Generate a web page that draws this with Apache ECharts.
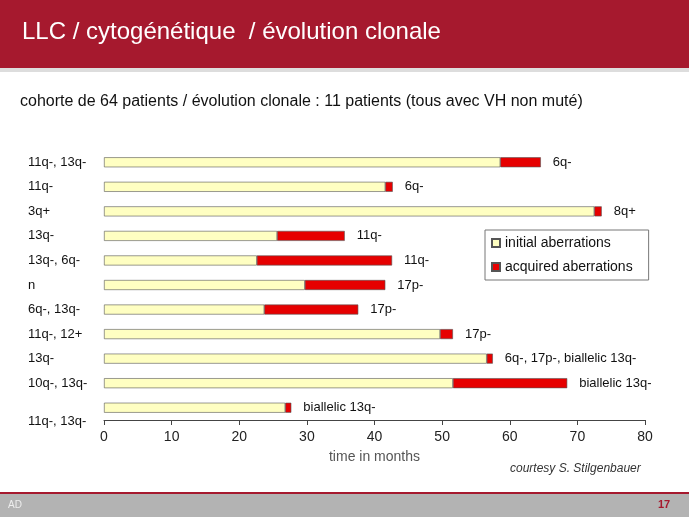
<!DOCTYPE html>
<html><head><meta charset="utf-8">
<script src="https://cdn.jsdelivr.net/npm/echarts@6/dist/echarts.min.js"></script>
<style>body{margin:0}#chart{width:689px;height:517px}</style>
</head><body><div id="chart"></div>
<script>
const categories = ['11q-, 13q-', '11q-', '3q+', '13q-', '13q-, 6q-', 'n', '6q-, 13q-', '11q-, 12+', '13q-', '10q-, 13q-', '11q-, 13q-'];
const initialMonths = [58.6, 41.6, 72.5, 25.6, 22.6, 29.7, 23.7, 49.7, 56.6, 51.6, 26.8];
const totalMonths = [64.6, 42.7, 73.6, 35.6, 42.6, 41.6, 37.6, 51.6, 57.5, 68.5, 27.7];
const acquiredLabels = ['6q-', '6q-', '8q+', '11q-', '11q-', '17p-', '17p-', '17p-', '6q-, 17p-, biallelic 13q-', 'biallelic 13q-', 'biallelic 13q-'];
const xTicks = [0, 10, 20, 30, 40, 50, 60, 70, 80];

const acquired = totalMonths.map((t, i) => +(t - initialMonths[i]).toFixed(1));
const font = 'Liberation Sans';

const chart = echarts.init(document.getElementById('chart'));
chart.setOption({
  animation: false,
  backgroundColor: '#fff',
  textStyle: { fontFamily: font },
  graphic: [
    { type: 'rect', shape: { x: 0, y: 68, width: 689, height: 4 }, style: { fill: '#ddd' } },
    { type: 'rect', shape: { x: 0, y: 0, width: 689, height: 68 }, style: { fill: '#a6192e' } },
    { type: 'text', left: 22, top: 20, style: { text: 'LLC / cytogénétique  / évolution clonale', fill: '#fff', font: '24px ' + font } },
    { type: 'text', left: 20, top: 94, style: { text: 'cohorte de 64 patients / évolution clonale : 11 patients (tous avec VH non muté)', fill: '#111', font: '16px ' + font } },
    { type: 'text', left: 510, top: 463, style: { text: 'courtesy S. Stilgenbauer', fill: '#333', font: 'italic 12px ' + font } },
    { type: 'rect', shape: { x: 0, y: 494, width: 689, height: 23 }, style: { fill: '#b3b3b3' } },
    { type: 'rect', shape: { x: 0, y: 492, width: 689, height: 2 }, style: { fill: '#a6192e' } },
    { type: 'text', left: 8, top: 500, style: { text: 'AD', fill: '#eee', font: '10px ' + font } },
    { type: 'text', left: 658, top: 499, style: { text: '17', fill: '#a6192e', font: 'bold 11px ' + font } }
  ],
  legend: {
    orient: 'vertical', left: 485, top: 230, padding: [6, 16, 6, 6],
    borderColor: '#777', borderWidth: 1, backgroundColor: '#fff',
    itemWidth: 8, itemHeight: 8, itemGap: 10,
    textStyle: { fontSize: 14, color: '#111' },
    data: [{ name: 'initial aberrations', icon: 'rect' }, { name: 'acquired aberrations', icon: 'rect' }]
  },
  grid: { left: 104, right: 44, top: 150, bottom: 97 },
  xAxis: {
    type: 'value', min: 0, max: 80, interval: 10,
    name: 'time in months', nameLocation: 'middle', nameGap: 30,
    nameTextStyle: { fontSize: 14, color: '#555' },
    axisLine: { show: true, lineStyle: { color: '#444' } },
    axisTick: { show: true, length: 5 },
    axisLabel: { fontSize: 14, color: '#222', margin: 10, formatter: v => xTicks.includes(v) ? v : '' },
    splitLine: { show: false }
  },
  yAxis: {
    type: 'category', inverse: true, data: categories,
    axisLine: { show: false }, axisTick: { show: false },
    axisLabel: {
      fontSize: 13, color: '#111', margin: 76, align: 'left',
      formatter: (v, i) => i === 10 ? '{low|' + v + '}' : v,
      rich: { low: { fontSize: 13, color: '#111', padding: [28, 0, 0, 0] } }
    }
  },
  series: [
    {
      name: 'initial aberrations', type: 'bar', stack: 's', data: initialMonths, barWidth: 10,
      itemStyle: { color: '#ffffc2', borderColor: '#555', borderWidth: 0.6 }
    },
    {
      name: 'acquired aberrations', type: 'bar', stack: 's', data: acquired, barWidth: 10,
      itemStyle: { color: '#e60000', borderColor: '#555', borderWidth: 0.6 },
      label: { show: true, position: 'right', distance: 12, fontSize: 13, color: '#111', formatter: p => acquiredLabels[p.dataIndex] }
    }
  ]
});
</script>
</body></html>
